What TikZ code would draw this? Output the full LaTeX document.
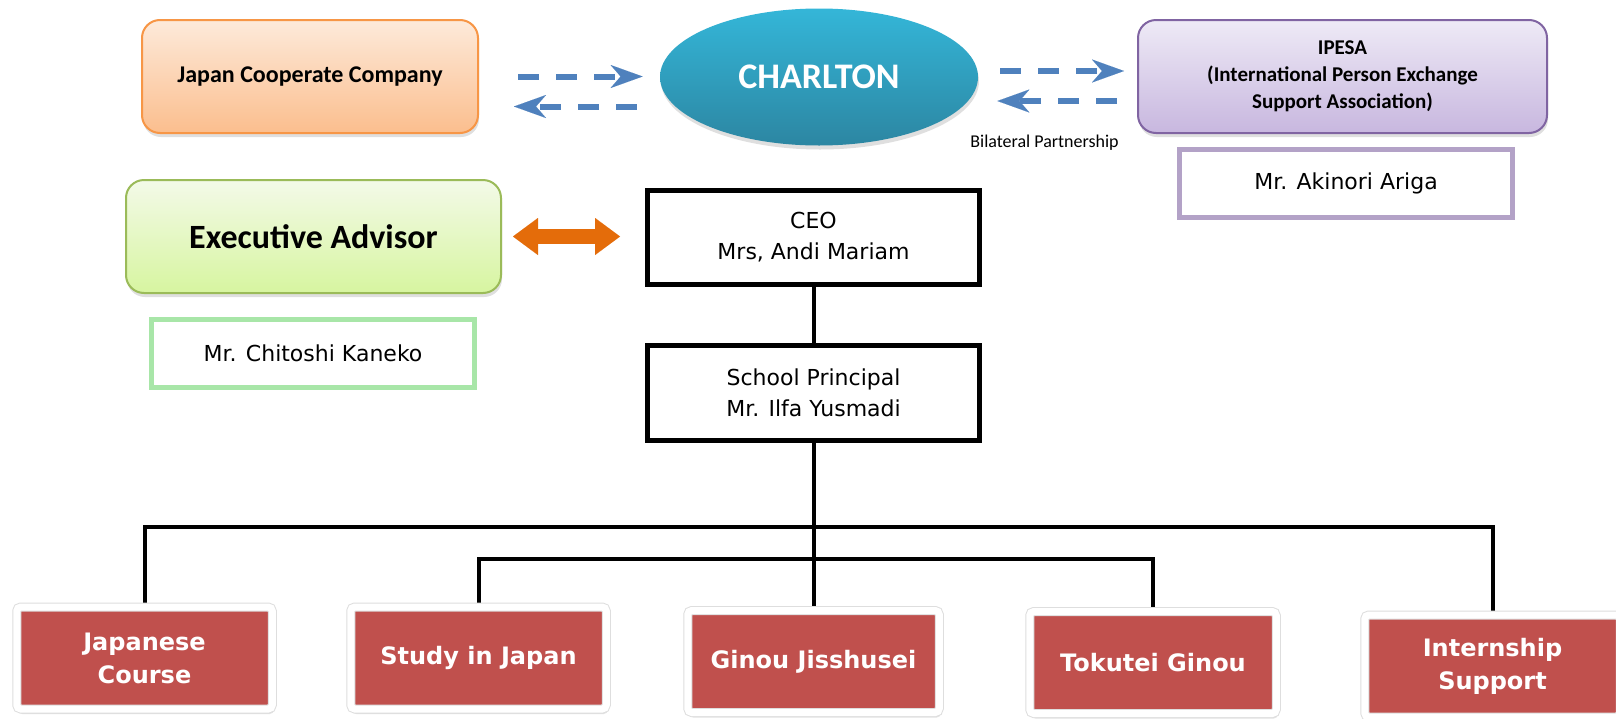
\documentclass[tikz,border=0pt]{standalone}
\usepackage{fontspec}
\setmainfont{Carlito}
\newfontfamily\comicfont{DejaVu Sans}
\usetikzlibrary{shapes.geometric,arrows.meta,shadows,backgrounds,calc}
\definecolor{boxred}{HTML}{C0504D}
\definecolor{arrblue}{HTML}{4F81BD}
\definecolor{arrorange}{HTML}{E46C0A}
\definecolor{jtop}{HTML}{FDEADA}
\definecolor{jbot}{HTML}{FBBE8E}
\definecolor{jline}{HTML}{F79646}
\definecolor{ptop}{HTML}{EEEAF6}
\definecolor{pbot}{HTML}{C8B7DF}
\definecolor{pline}{HTML}{8064A2}
\definecolor{gtop}{HTML}{F3FAE8}
\definecolor{gbot}{HTML}{D7F5A0}
\definecolor{gline}{HTML}{9BBB59}
\definecolor{ctop}{HTML}{34B6D8}
\definecolor{cbot}{HTML}{2C86A2}
\definecolor{kline}{HTML}{A8E6A8}
\definecolor{aline}{HTML}{B3A2C7}
\begin{document}
\begin{tikzpicture}[x=0.5pt,y=-0.5pt,
  topbox/.style={rounded corners=9pt, line width=1pt, align=center, inner sep=0pt,
    minimum width=#1, minimum height=56.5pt,
    drop shadow={opacity=0.25, shadow xshift=0.5pt, shadow yshift=-2pt}},
  namebox/.style={draw=#1, line width=2.5pt, fill=white, inner sep=0pt,
    minimum width=166.5pt, minimum height=34pt,
    font=\comicfont\fontsize{11pt}{15.5pt}\selectfont},
  orgbox/.style={draw=black, line width=2.5pt, fill=white, inner sep=0pt, align=center,
    minimum width=166pt, minimum height=47pt,
    font=\comicfont\fontsize{11pt}{15.5pt}\selectfont},
  catbox/.style={fill=boxred, draw=black!13, line width=0.5pt, double=white, double distance=3.5pt,
    rounded corners=2pt,
    drop shadow={opacity=0.22, shadow xshift=0.8pt, shadow yshift=-2.5pt},
    text=white, align=center, inner sep=0pt,
    minimum width=#1, minimum height=51pt,
    font=\comicfont\bfseries\fontsize{12pt}{16.5pt}\selectfont},
  conn/.style={draw=black, line width=2pt},
  dasharr/.style={draw=arrblue, line width=3pt, dash pattern=on 10.5pt off 8.5pt,
    -{Stealth[length=16pt,width=11.5pt,inset=5pt,line width=0.01pt]}},
  dblarr/.style={draw=arrorange, line width=7.5pt,
    {Triangle[length=12.5pt,width=18.5pt,line width=0.01pt]}-{Triangle[length=12.5pt,width=18.5pt,line width=0.01pt]}}
]
\useasboundingbox (0,0) rectangle (1616,718);

% top row
\node[topbox=168pt, draw=jline, top color=jtop, bottom color=jbot,
  font=\bfseries\fontsize{12pt}{14pt}\selectfont] (japan) at (310,76.5) {Japan Cooperate Company};
\node[ellipse, minimum width=159pt, minimum height=68.5pt, inner sep=0pt,
  top color=ctop, bottom color=cbot, text=white,
  drop shadow={opacity=0.25, shadow xshift=0.5pt, shadow yshift=-2pt},
  font=\bfseries\fontsize{18pt}{20pt}\selectfont] (charlton) at (819,77) {CHARLTON};
\node[topbox=204.5pt, draw=pline, top color=ptop, bottom color=pbot,
  font=\bfseries\fontsize{10.5pt}{13.5pt}\selectfont] (ipesa) at (1342.5,76.5)
  {IPESA\\(International Person Exchange\\Support Association)};
\node[font=\fontsize{9pt}{11pt}\selectfont] (bp) at (1044.5,143) {Bilateral Partnership};
\node[namebox=aline] (akinori) at (1346,183.5) {Mr. Akinori Ariga};

% executive
\node[topbox=187.5pt, draw=gline, top color=gtop, bottom color=gbot,
  font=\bfseries\fontsize{17pt}{20pt}\selectfont] (exec) at (313.5,236.5) {Executive Advisor};
\node[namebox=kline, minimum width=161.5pt] (kaneko) at (313,353.5) {Mr. Chitoshi Kaneko};

% org
\node[orgbox] (ceo) at (813.5,237.5) {CEO\\Mrs, Andi Mariam};
\node[orgbox, minimum height=47.5pt] (principal) at (813.5,393) {School Principal\\Mr. Ilfa Yusmadi};

% categories
\node[catbox=127.75pt] (jc) at (144.5,658) {Japanese\\Course};
\node[catbox=127.75pt] (sij) at (478.5,658) {Study in Japan};
\node[catbox=125.75pt] (gj) at (813.5,661.5) {Ginou Jisshusei};
\node[catbox=123.25pt] (tg) at (1153,662.5) {Tokutei Ginou};
\node[catbox=127.75pt] (is) at (1492.5,666) {Internship\\Support};

\coordinate (busA) at (813.5,527);
\coordinate (busB) at (813.5,559);

\begin{scope}[on background layer]
  \fill[white] (0,0) rectangle (1616,718);
  \draw[conn] (ceo.south) -- (principal.north);
  \draw[conn] (principal.south) -- (principal.south |- gj.north);
  \draw[conn] (jc.north) |- (busA) -| (is.north);
  \draw[conn] (sij.north) |- (busB) -| (tg.north);
\end{scope}

% arrows
\draw[dasharr, shorten <=19.5pt, shorten >=8.5pt] (japan.east) -- (japan.east -| charlton.west);
\draw[dasharr, shorten <=11.5pt, shorten >=17.5pt] ($(japan.east -| charlton.west)+(0,30)$) -- ($(japan.east)+(0,30)$);
\draw[dasharr, shorten <=11pt, shorten >=6.5pt] ($(charlton.east)+(0,-6)$) -- ($(charlton.east -| ipesa.west)+(0,-6)$);
\draw[dasharr, shorten <=10pt, shorten >=9.5pt] ($(charlton.east -| ipesa.west)+(0,24)$) -- ($(charlton.east)+(0,24)$);
\draw[dblarr, shorten <=5.5pt, shorten >=12.5pt] (exec.east) -- (exec.east -| ceo.west);
\end{tikzpicture}
\end{document}
